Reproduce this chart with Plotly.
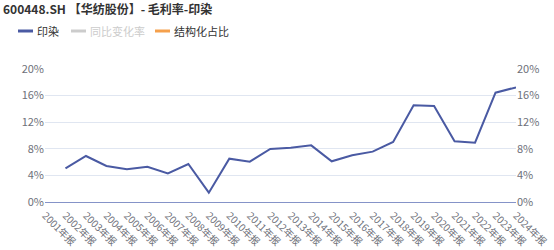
import plotly.graph_objects as go

categories = [f"{y}年报" for y in range(2001, 2025)]
margin_values = [None, 5.07, 6.92, 5.41, 4.91, 5.31, 4.31, 5.71, 1.40, 6.52, 6.06, 7.97, 8.17,
                 8.52, 6.12, 7.02, 7.57, 9.02, 14.54, 14.44, 9.12, 8.92, 16.44, 17.24]
y_ticks = [0, 4, 8, 12, 16, 20]
y_tick_text = [f"{v}%" for v in y_ticks]
legend_names = ["印染", "同比变化率", "结构化占比"]
legend_colors = ["#4a5aa3", "#cccccc", "#f5a04c"]
legend_text_colors = ["#333333", "#cccccc", "#333333"]
title_text = "600448.SH 【华纺股份】- 毛利率-印染"

W, H = 554, 250
L, R, T, B = 45, 38, 69, 48
pw, ph = W - L - R, H - T - B

def px_x(x):
    return (x - L) / pw

def px_y(y):
    return (H - B - y) / ph

FONT = "Noto Sans CJK SC, Noto Sans, sans-serif"

fig = go.Figure()
fig.add_trace(go.Scatter(x=categories, y=margin_values, mode="lines",
                         line=dict(color=legend_colors[0], width=2),
                         connectgaps=False, showlegend=False, hoverinfo="skip"))
fig.add_trace(go.Scatter(x=categories, y=[None] * len(categories), yaxis="y2",
                         mode="lines", showlegend=False, hoverinfo="skip"))

shapes = []
annotations = []
legend_line_x = [18, 71, 155]
for i, name in enumerate(legend_names):
    x0 = legend_line_x[i]
    shapes.append(dict(type="line", xref="paper", yref="paper",
                       x0=px_x(x0), x1=px_x(x0 + 15), y0=px_y(31), y1=px_y(31),
                       line=dict(color=legend_colors[i], width=3)))
    annotations.append(dict(text=name, xref="paper", yref="paper",
                            x=px_x(x0 + 17), y=px_y(31), xanchor="left", yanchor="middle",
                            showarrow=False,
                            font=dict(family=FONT, size=11, color=legend_text_colors[i])))

axis_common = dict(range=[0, 20], tickvals=y_ticks, ticktext=y_tick_text,
                   showline=False, zeroline=False, ticks="", automargin=False,
                   tickfont=dict(family=FONT, size=11, color="#6e7079"))

fig.update_layout(
    width=W, height=H,
    margin=dict(l=L, r=R, t=T, b=B),
    paper_bgcolor="white", plot_bgcolor="white",
    title=dict(text=title_text, xref="container", yref="container",
               x=3 / W, y=1 - 10 / H, xanchor="left", yanchor="middle",
               automargin=False,
               font=dict(family=FONT, size=12, color="#333333", weight=600)),
    xaxis=dict(type="category", categoryorder="array", categoryarray=categories,
               tickangle=45, showgrid=False, showline=True, linecolor="#8593c8",
               linewidth=1, ticks="", zeroline=False, automargin=False,
               ticklabelstandoff=3,
               tickfont=dict(family=FONT, size=10, color="#6e7079")),
    yaxis=dict(showgrid=True, gridcolor="#e0e6f1", gridwidth=1, side="left", **axis_common),
    yaxis2=dict(overlaying="y", side="right", showgrid=False, **axis_common),
    shapes=shapes, annotations=annotations, showlegend=False,
)

fig.write_html("out.html")
